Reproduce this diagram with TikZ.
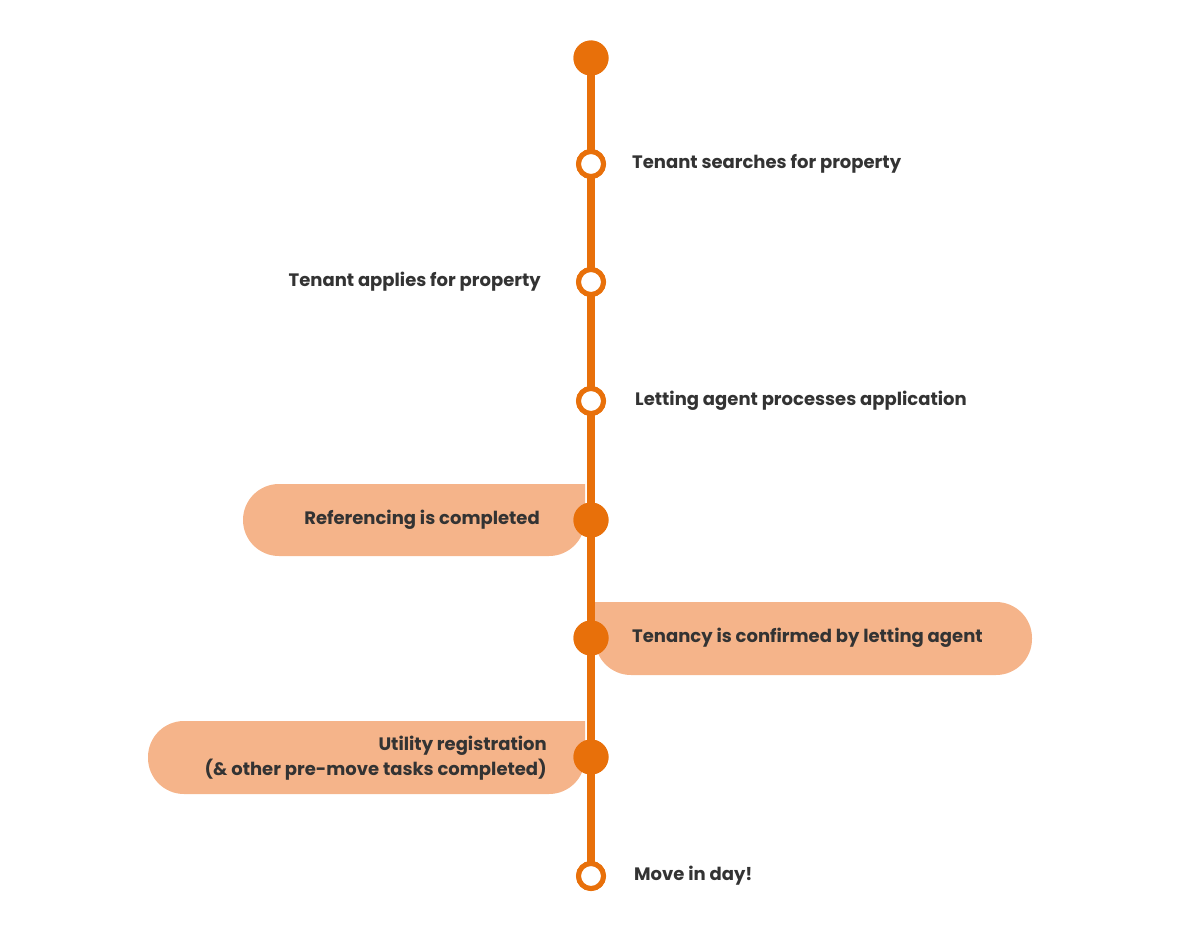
\documentclass[tikz,border=0pt]{standalone}
\usepackage{fontspec}
\setmainfont{Poppins}
\definecolor{org}{HTML}{E8700A}
\definecolor{pill}{HTML}{F5B48A}
\definecolor{txt}{HTML}{333333}
\begin{document}
\begin{tikzpicture}[x=1pt,y=-1pt,
  lab/.style={font=\fontsize{18}{25}\selectfont\bfseries, text=txt, inner sep=0pt},
  hollow/.style={circle, draw=org, line width=5pt, fill=white, minimum size=25pt, inner sep=0pt},
  solid/.style={circle, fill=org, minimum size=35pt, inner sep=0pt}]
\useasboundingbox (0,0) rectangle (1200,942);
% pills
\fill[pill, rounded corners=36pt] (585,484) -- (243,484) -- (243,556) -- (585,556) [sharp corners] -- cycle;
\fill[pill, rounded corners=36pt] (595,602) -- (1032,602) -- (1032,675) -- (595,675) [sharp corners] -- cycle;
\fill[pill, rounded corners=36pt] (585,721) -- (148,721) -- (148,794) -- (585,794) [sharp corners] -- cycle;
% nodes
\node[solid] (n0) at (591,58) {};
\node[hollow] (n1) at (591,164) {};
\node[hollow] (n2) at (591,282) {};
\node[hollow] (n3) at (591,401) {};
\node[solid] (n4) at (591,520) {};
\node[solid] (n5) at (591,638) {};
\node[solid] (n6) at (591,757) {};
\node[hollow] (n7) at (591,876) {};
\begin{scope}[on background layer/.style={}]
\end{scope}
\draw[org, line width=8pt] (n0.center) -- (n7.center);
\node[solid] at (n0) {};
\node[hollow] at (n1) {};
\node[hollow] at (n2) {};
\node[hollow] at (n3) {};
\node[solid] at (n4) {};
\node[solid] at (n5) {};
\node[solid] at (n6) {};
\node[hollow] at (n7) {};
% labels
\node[lab, anchor=west] (t1) at (632,164) {Tenant searches for property};
\node[lab, anchor=east] (t2) at (541,282) {Tenant applies for property};
\node[lab, anchor=west] (t3) at (635,401) {Letting agent processes application};
\node[lab, anchor=east] (t4) at (540,520) {Referencing is completed};
\node[lab, anchor=west] (t5) at (632,638) {Tenancy is confirmed by letting agent};
\node[lab, anchor=east, align=right] (t6) at (547,758) {Utility registration\\(\& other pre-move tasks completed)};
\node[lab, anchor=west] (t7) at (634,876) {Move in day!};
\end{tikzpicture}
\end{document}
